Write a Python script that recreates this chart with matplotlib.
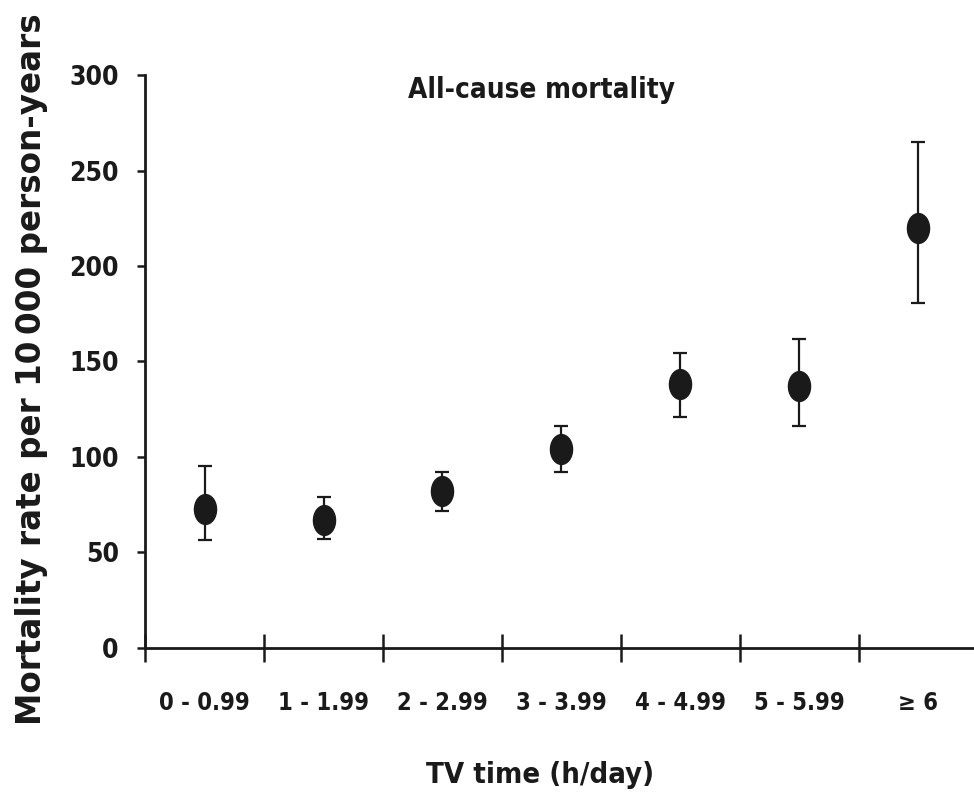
import numpy as np
import matplotlib
matplotlib.use('Agg')
import matplotlib.pyplot as plt
from matplotlib.path import Path
from matplotlib.transforms import Affine2D

categories = ['0 - 0.99', '1 - 1.99', '2 - 2.99', '3 - 3.99', '4 - 4.99', '5 - 5.99', '\u2265 6']
rate = [73, 67, 82, 104, 138, 137, 220]
ci_low = [56.5, 57, 71.5, 92, 121, 116, 180.5]
ci_high = [95.5, 79, 92, 116, 154.5, 162, 265]

ink = '#1a1a1a'

x = np.arange(len(categories))
err = [np.array(rate) - np.array(ci_low), np.array(ci_high) - np.array(rate)]

# slightly tall ellipse marker like the scanned figure
oval = Path.unit_circle().transformed(Affine2D().scale(0.74, 1.0))

fig = plt.figure(figsize=(9.74, 7.98), dpi=100)
ax = fig.add_axes([0.149, 0.188, 0.851, 0.718])

ax.errorbar(x, rate, yerr=err, fmt='none', ecolor=ink, elinewidth=1.6,
            capsize=4.8, capthick=1.6, zorder=2)
ax.plot(x, rate, linestyle='none', marker=oval, markersize=21.5,
        color=ink, zorder=3)

ax.set_xlim(-0.5, 6.47)
ax.set_ylim(0, 300)
for s in ['top', 'right']:
    ax.spines[s].set_visible(False)
for s in ['left', 'bottom']:
    ax.spines[s].set_linewidth(2)
    ax.spines[s].set_color(ink)

ax.set_yticks([0, 50, 100, 150, 200, 250, 300])
ax.tick_params(axis='y', direction='out', length=6, width=1.8, color=ink, pad=13)
ax.set_xticks(np.arange(-0.5, 6, 1.0))
ax.set_xticklabels([])
ax.tick_params(axis='x', direction='inout', length=20, width=1.8, color=ink)
ax.set_xticks(x, minor=True)
ax.set_xticklabels(categories, minor=True)
ax.tick_params(axis='x', which='minor', length=0, pad=31)

for lab in ax.get_yticklabels():
    lab.set_family('DejaVu Sans')
    lab.set_stretch('condensed')
    lab.set_fontweight('bold')
    lab.set_fontsize(19)
    lab.set_color(ink)
for lab in ax.get_xticklabels(minor=True):
    lab.set_family('DejaVu Sans')
    lab.set_stretch('condensed')
    lab.set_fontweight('bold')
    lab.set_fontsize(17)
    lab.set_color(ink)

fig.text(541 / 974, 1 - 90 / 798, 'All-cause mortality', family='DejaVu Sans',
         stretch='condensed', fontweight='bold', fontsize=20, color=ink,
         ha='center', va='center')
fig.text(540 / 974, 1 - 775 / 798, 'TV time (h/day)', family='DejaVu Sans',
         stretch='condensed', fontweight='bold', fontsize=21, color=ink,
         ha='center', va='center')
fig.text(32 / 974, 1 - 725 / 798, 'Mortality rate per 10\u2009000 person-years',
         family='DejaVu Sans', fontweight='bold',
         fontsize=23.5, color=ink, rotation=90, ha='center', va='bottom')

fig.savefig('out.png', dpi=100)
